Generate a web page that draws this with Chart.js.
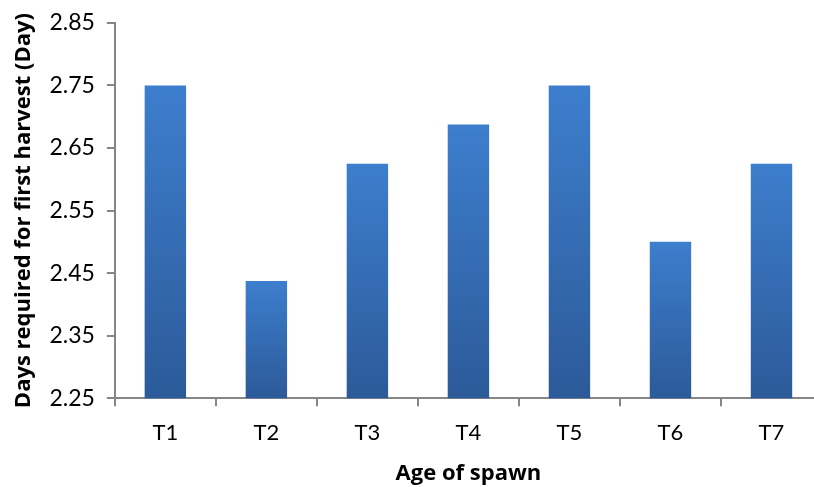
<!DOCTYPE html>
<html>
<head>
<meta charset="utf-8">
<script src="https://cdn.jsdelivr.net/npm/chart.js@4.4.1/dist/chart.umd.min.js"></script>
<style>
  html, body { margin: 0; padding: 0; background: #fff; overflow: hidden; }
  #wrap { width: 822px; height: 487px; }
</style>
</head>
<body>
<div id="wrap"><canvas id="chart"></canvas></div>
<script>
// treatments and days to first harvest
var categories = ['T1', 'T2', 'T3', 'T4', 'T5', 'T6', 'T7'];
var days = [2.75, 2.4375, 2.625, 2.6875, 2.75, 2.5, 2.625];
var yTicks = [2.25, 2.35, 2.45, 2.55, 2.65, 2.75, 2.85];

var axisColor = '#868686';
var font = 'Lato, "Open Sans", sans-serif';
var titleFont = '"Open Sans", Lato, sans-serif';

// per-bar vertical gradient, lighter at the top
function barFill(ctx) {
    var chart = ctx.chart;
    if (!chart.chartArea || !chart.scales.y) return '#3a78c4';
    var y = chart.scales.y;
    var top = y.getPixelForValue(days[ctx.dataIndex]);
    var bottom = y.getPixelForValue(yTicks[0]);
    var g = chart.ctx.createLinearGradient(0, top, 0, bottom);
    g.addColorStop(0, '#3d7ecd');
    g.addColorStop(1, '#2c5a99');
    return g;
}

new Chart(document.getElementById('chart'), {
    type: 'bar',
    data: {
        labels: categories,
        datasets: [{
            data: days,
            backgroundColor: barFill,
            borderWidth: 0,
            barPercentage: 0.41,
            categoryPercentage: 1
        }]
    },
    options: {
        responsive: true,
        maintainAspectRatio: false,
        animation: false,
        layout: { padding: { top: 0, left: 11, bottom: 0, right: 0 } },
        plugins: {
            legend: { display: false },
            tooltip: { enabled: false }
        },
        scales: {
            x: {
                border: { color: axisColor, width: 2 },
                grid: { drawOnChartArea: false, color: axisColor, lineWidth: 2, tickLength: 8, offset: true },
                ticks: { color: '#000', font: { family: font, size: 22 }, padding: 14 },
                title: {
                    display: true, text: 'Age of spawn', color: '#000',
                    font: { family: titleFont, size: 22, weight: 'bold' }, padding: { top: 0, bottom: 0 }
                }
            },
            y: {
                min: yTicks[0],
                max: yTicks[yTicks.length - 1],
                border: { color: axisColor, width: 2 },
                grid: { drawOnChartArea: false, color: axisColor, lineWidth: 2, tickLength: 8 },
                ticks: {
                    stepSize: 0.1,
                    color: '#000',
                    font: { family: font, size: 23, lineHeight: 0.95 },
                    padding: 12,
                    callback: function (v) { return Number(v).toFixed(2); }
                },
                afterBuildTicks: function (axis) {
                    axis.ticks = yTicks.map(function (v) { return { value: v }; });
                },
                title: {
                    display: true, text: 'Days required for first harvest (Day)', color: '#000',
                    font: { family: titleFont, size: 22, weight: 'bold' }, padding: { top: 0, bottom: 0 }
                }
            }
        }
    }
});
</script>
</body>
</html>
